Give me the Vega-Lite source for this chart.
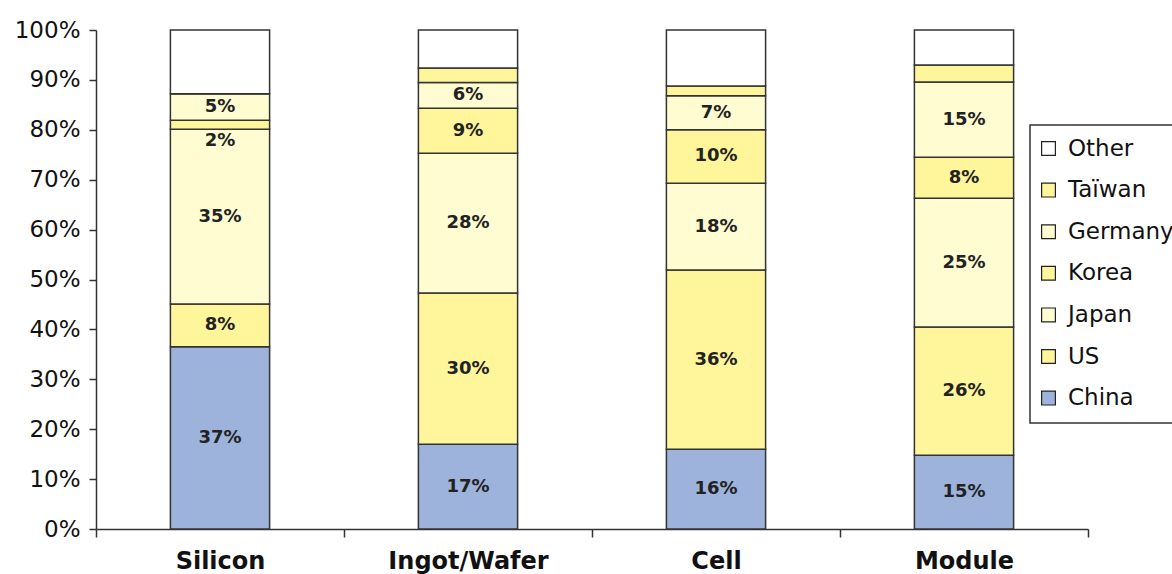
{
  "$schema": "https://vega.github.io/schema/vega-lite/v6.json",
  "width": 992,
  "height": 499,
  "autosize": "none",
  "padding": {"left": 96, "top": 30, "right": 84, "bottom": 45},
  "background": "white",
  "data": {
    "values": [
      {"stage": "Silicon", "country": "China", "rank": 1, "value": 36.5, "label": "37%"},
      {"stage": "Silicon", "country": "US", "rank": 2, "value": 8.6, "label": "8%"},
      {"stage": "Silicon", "country": "Japan", "rank": 3, "value": 35.0, "label": "35%"},
      {"stage": "Silicon", "country": "Korea", "rank": 4, "value": 1.8, "label": "2%"},
      {"stage": "Silicon", "country": "Germany", "rank": 5, "value": 5.3, "label": "5%"},
      {"stage": "Silicon", "country": "Taïwan", "rank": 6, "value": 0, "label": ""},
      {"stage": "Silicon", "country": "Other", "rank": 7, "value": 12.8, "label": ""},
      {"stage": "Ingot/Wafer", "country": "China", "rank": 1, "value": 17.0, "label": "17%"},
      {"stage": "Ingot/Wafer", "country": "US", "rank": 2, "value": 30.3, "label": "30%"},
      {"stage": "Ingot/Wafer", "country": "Japan", "rank": 3, "value": 28.0, "label": "28%"},
      {"stage": "Ingot/Wafer", "country": "Korea", "rank": 4, "value": 9.0, "label": "9%"},
      {"stage": "Ingot/Wafer", "country": "Germany", "rank": 5, "value": 5.2, "label": "6%"},
      {"stage": "Ingot/Wafer", "country": "Taïwan", "rank": 6, "value": 2.9, "label": ""},
      {"stage": "Ingot/Wafer", "country": "Other", "rank": 7, "value": 7.6, "label": ""},
      {"stage": "Cell", "country": "China", "rank": 1, "value": 16.0, "label": "16%"},
      {"stage": "Cell", "country": "US", "rank": 2, "value": 35.9, "label": "36%"},
      {"stage": "Cell", "country": "Japan", "rank": 3, "value": 17.4, "label": "18%"},
      {"stage": "Cell", "country": "Korea", "rank": 4, "value": 10.7, "label": "10%"},
      {"stage": "Cell", "country": "Germany", "rank": 5, "value": 6.8, "label": "7%"},
      {"stage": "Cell", "country": "Taïwan", "rank": 6, "value": 2.0, "label": ""},
      {"stage": "Cell", "country": "Other", "rank": 7, "value": 11.2, "label": ""},
      {"stage": "Module", "country": "China", "rank": 1, "value": 14.8, "label": "15%"},
      {"stage": "Module", "country": "US", "rank": 2, "value": 25.7, "label": "26%"},
      {"stage": "Module", "country": "Japan", "rank": 3, "value": 25.8, "label": "25%"},
      {"stage": "Module", "country": "Korea", "rank": 4, "value": 8.2, "label": "8%"},
      {"stage": "Module", "country": "Germany", "rank": 5, "value": 15.1, "label": "15%"},
      {"stage": "Module", "country": "Taïwan", "rank": 6, "value": 3.4, "label": ""},
      {"stage": "Module", "country": "Other", "rank": 7, "value": 7.0, "label": ""}
    ]
  },
  "encoding": {
    "x": {
      "field": "stage",
      "type": "nominal",
      "sort": ["Silicon", "Ingot/Wafer", "Cell", "Module"],
      "scale": {"paddingInner": 0, "paddingOuter": 0},
      "axis": {
        "title": null,
        "labelAngle": 0,
        "tickBand": "extent",
        "tickSize": 8,
        "labelPadding": 12,
        "labelFont": "DejaVu Sans",
        "labelFontSize": 24,
        "labelFontWeight": "bold",
        "labelColor": "#111",
        "labelBaseline": "top"
      }
    },
    "y": {
      "field": "value",
      "type": "quantitative",
      "stack": "zero",
      "scale": {"domain": [0, 100], "nice": false},
      "axis": {
        "title": null,
        "values": [0, 10, 20, 30, 40, 50, 60, 70, 80, 90, 100],
        "labelExpr": "datum.value + '%'",
        "grid": false,
        "tickSize": 7,
        "labelPadding": 9,
        "labelFont": "DejaVu Sans",
        "labelFontSize": 23,
        "labelColor": "#111"
      }
    },
    "order": {"field": "rank", "type": "quantitative"}
  },
  "layer": [
    {
      "mark": {"type": "bar", "stroke": "#333333", "strokeWidth": 1.5, "width": {"band": 0.4}},
      "encoding": {
        "color": {
          "field": "country",
          "type": "nominal",
          "scale": {
            "domain": ["Other", "Taïwan", "Germany", "Korea", "Japan", "US", "China"],
            "range": ["#ffffff", "#fff59b", "#fffcd2", "#fff59b", "#fffcd2", "#fff59b", "#9db3db"]
          },
          "legend": {
            "title": null,
            "orient": "none",
            "legendX": 934,
            "legendY": 95,
            "padding": 12,
            "strokeColor": "#333333",
            "fillColor": "white",
            "symbolType": "square",
            "symbolSize": 190,
            "symbolStrokeColor": "#222",
            "symbolStrokeWidth": 1.2,
            "symbolOffset": -5,
            "labelFont": "DejaVu Sans",
            "labelFontSize": 23,
            "labelColor": "#111",
            "labelOffset": 8,
            "rowPadding": 17.6,
            "labelLimit": 300,
            "encode": {"legend": {"update": {"strokeWidth": {"value": 1.5}}}}
          }
        }
      }
    },
    {
      "mark": {"type": "text", "font": "DejaVu Sans", "fontSize": 18, "fontWeight": "bold", "color": "#222", "baseline": "middle"},
      "encoding": {
        "y": {"field": "value", "type": "quantitative", "stack": "zero", "bandPosition": 0.5},
        "text": {"condition": {"test": "datum.value >= 3", "field": "label"}, "value": ""}
      }
    },
    {
      "mark": {"type": "text", "font": "DejaVu Sans", "fontSize": 18, "fontWeight": "bold", "color": "#222", "baseline": "middle", "dy": 16},
      "encoding": {
        "y": {"field": "value", "type": "quantitative", "stack": "zero", "bandPosition": 0.5},
        "text": {"condition": {"test": "datum.value < 3", "field": "label"}, "value": ""}
      }
    }
  ],
  "config": {
    "view": {"stroke": null},
    "axis": {"domainColor": "#333", "tickColor": "#333", "domainWidth": 1.5, "tickWidth": 1.5}
  }
}
